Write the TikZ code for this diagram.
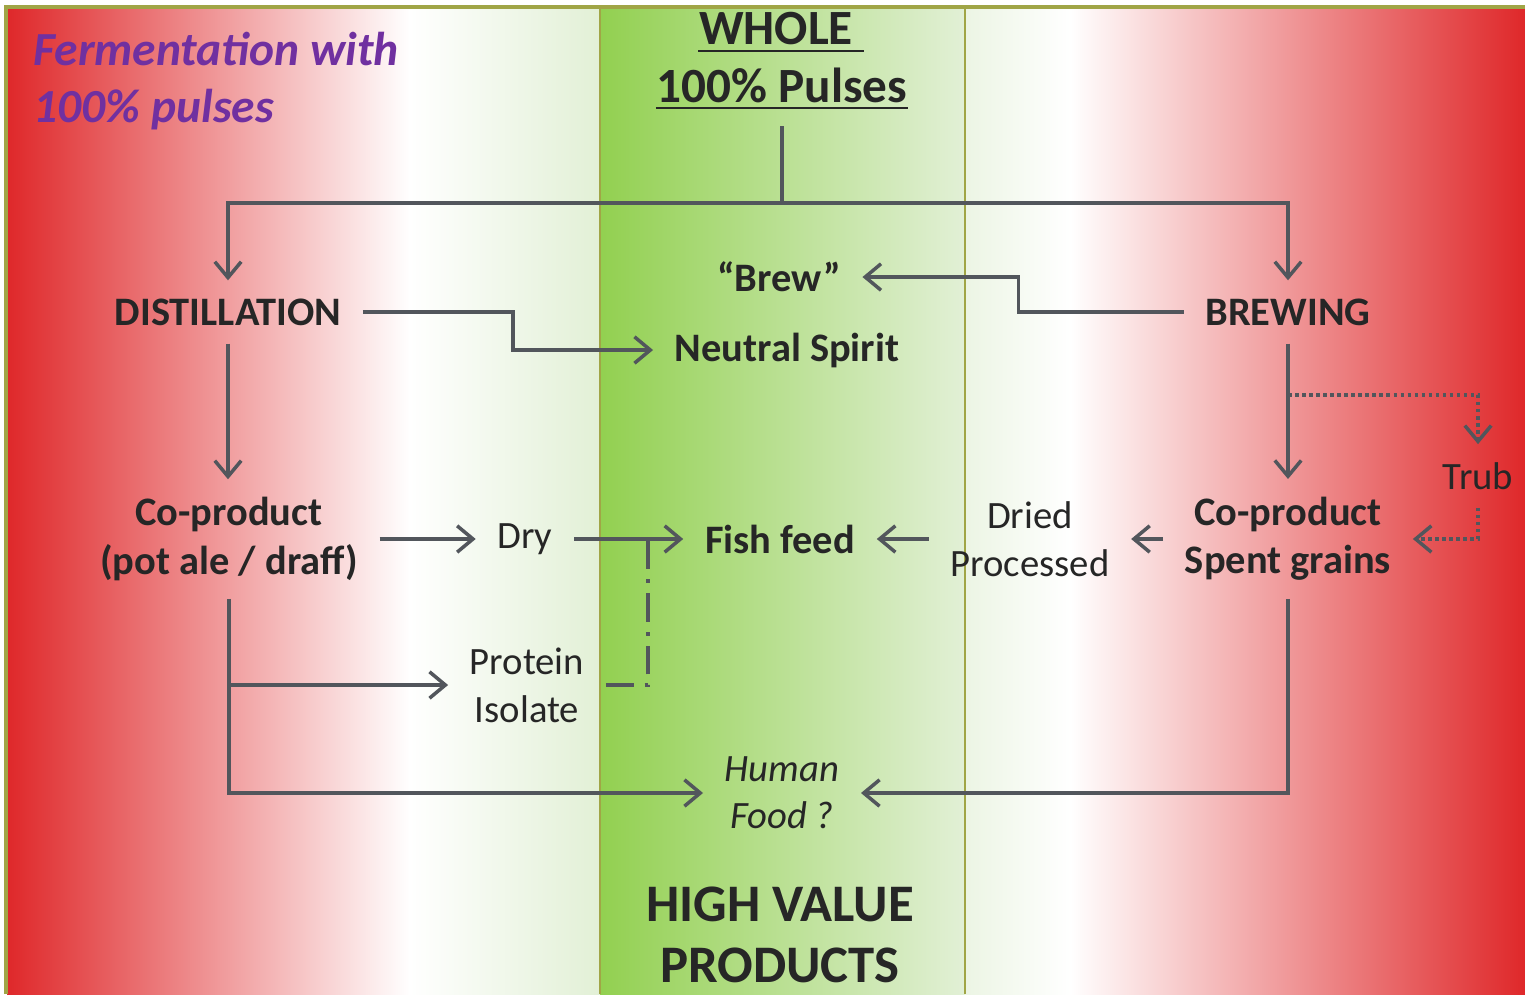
\documentclass[tikz,border=0pt]{standalone}
\usepackage{fontspec}
\setmainfont{Carlito}
\usetikzlibrary{arrows.meta}
\definecolor{redend}{RGB}{223,40,42}
\definecolor{leafgreen}{RGB}{146,208,80}
\definecolor{palegreen}{RGB}{226,240,214}
\definecolor{paleright}{RGB}{236,245,228}
\definecolor{inkgray}{RGB}{38,38,38}
\definecolor{linegray}{RGB}{82,86,92}
\definecolor{grape}{RGB}{112,48,160}
\definecolor{olivebar}{RGB}{160,165,70}

\begin{document}
\begin{tikzpicture}[x=0.01cm,y=-0.01cm,
  flow/.style={draw=linegray,line width=1pt,-{Straight Barb[length=4.5pt,width=7.5pt]}},
  link/.style={draw=linegray,line width=1pt},
  stage/.style={text=inkgray,inner xsep=6pt,inner ysep=5pt,align=center,font=\bfseries\fontsize{11.5}{13.7}\selectfont},
  note/.style={text=inkgray,inner xsep=6pt,inner ysep=5pt,align=center,font=\fontsize{11}{13.7}\selectfont}]
  \useasboundingbox (0,0) rectangle (1525,994);
  \fill[white] (0,0) rectangle (1525,994);
  \shade[left color=redend,right color=white] (7,7) rectangle (410,994);
  \shade[left color=white,right color=palegreen] (409,7) rectangle (600,994);
  \shade[left color=leafgreen,right color=palegreen] (600,7) rectangle (965,994);
  \shade[left color=paleright,right color=white] (965,7) rectangle (1071,994);
  \shade[left color=white,right color=redend] (1070,7) rectangle (1525,994);
  \draw[olivebar,line width=0.5pt] (600,7) -- (600,994) (965,7) -- (965,994);
  \draw[olivebar,line width=1pt] (6,994) -- (6,7) -- (1525,7);

  \node[font=\bfseries\itshape\fontsize{13.5}{16.2}\selectfont,text=grape,align=left,anchor=north west,inner sep=0pt] (title) at (33,31) {Fermentation with\\100\% pulses};
  \node[font=\bfseries\fontsize{14}{16}\selectfont,text=inkgray,inner sep=0pt,anchor=base] (whole) at (776,45) {WHOLE};
  \node[font=\bfseries\fontsize{14}{16}\selectfont,text=inkgray,inner sep=0pt,anchor=base] (pulses) at (782,103) {100\% Pulses};
  \draw[inkgray,line width=0.6pt] ([yshift=-1.6pt]whole.base west) -- ([yshift=-1.6pt,xshift=0.1cm]whole.base east);
  \draw[inkgray,line width=0.6pt] ([yshift=-1.5pt]pulses.base west) -- ([yshift=-1.5pt]pulses.base east);

  \node[stage] (distil) at (228,312) {DISTILLATION};
  \node[stage] (brewing) at (1288,312) {BREWING};
  \node[stage] (brewq) at (779,277) {“Brew”};
  \node[stage] (spirit) at (787,350) {Neutral Spirit};
  \node[stage] (copot) at (229,539) {Co-product\\(pot ale / draff)};
  \node[note] (dry) at (525,539) {Dry};
  \node[stage] (fish) at (780,539) {Fish feed};
  \node[note] (dried) at (1030,539) {Dried\\Processed};
  \node[stage] (spent) at (1288,539) {Co-product\\Spent grains};
  \node[note] (trub) at (1478,476) {Trub};
  \node[note] (protein) at (527,685) {Protein\\Isolate};
  \node[note,font=\itshape\fontsize{11}{13.4}\selectfont] (human) at (782,793) {Human\\Food ?};
  \node[stage,font=\bfseries\fontsize{15}{17.4}\selectfont] (hvp) at (780,935) {HIGH VALUE\\PRODUCTS};

  \coordinate (split) at (pulses.south |- 0,203);
  \coordinate (tap) at (brewing.south |- 0,395);
  \coordinate (join) at (648,539);
  \draw[link,shorten <=0.22cm] (pulses.south) -- (split);
  \draw[flow] (split) -| (distil.north);
  \draw[flow] (split) -| (brewing.north);
  \draw[flow] (distil.east) -- ++(150,0) |- (spirit.west);
  \draw[flow] (brewing.west) -- ++(-165,0) |- (brewq.east);
  \draw[flow] (distil.south) -- (distil.south |- copot.north);
  \draw[flow] (brewing.south) -- (brewing.south |- spent.north);
  \draw[flow,densely dotted] (tap) -| (trub.north);
  \draw[flow,densely dotted] (trub.south) |- (spent.east);
  \draw[flow] (copot) -- (dry);
  \draw[flow] (dry) -- (fish);
  \draw[flow] (dried) -- (fish);
  \draw[flow] (spent) -- (dried);
  \draw[link,dash pattern=on 8pt off 3pt on 1pt off 3pt] (protein.east) -| (join);
  \draw[flow] (copot.south) |- (human.west);
  \draw[flow] (copot.south |- protein) -- (protein.west);
  \draw[flow] (spent.south) |- (human.east);
\end{tikzpicture}
\end{document}
